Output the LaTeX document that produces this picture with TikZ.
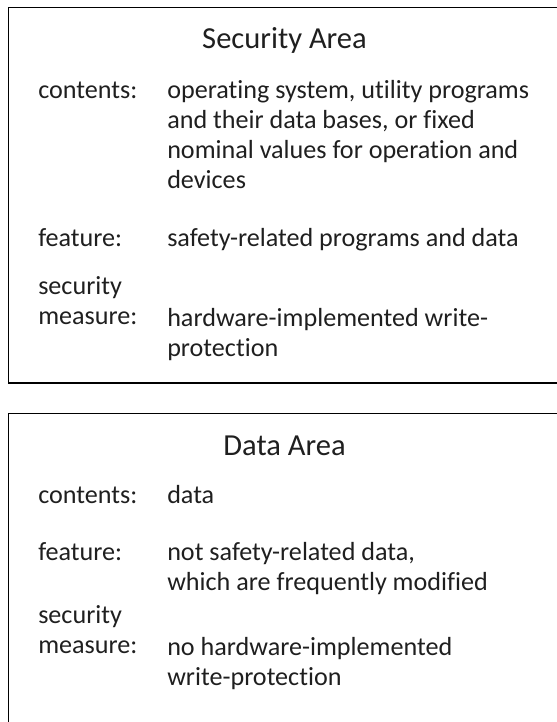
\documentclass[tikz,border=0pt]{standalone}
\usepackage{fontspec}
\setmainfont{Carlito}[Ligatures={NoCommon}]
\begin{document}
\begin{tikzpicture}[x=0.75pt,y=-0.75pt,
  areabox/.style={draw=black,line width=1.1pt},
  titletext/.style={anchor=base,inner sep=0pt,text=black!88,font=\fontsize{22.9pt}{27pt}\selectfont},
  bodytext/.style={anchor=base west,inner sep=0pt,text=black!88,font=\fontsize{19.6pt}{22.5pt}\selectfont}]
\useasboundingbox (0,0) rectangle (557,722);
\clip (0,0) rectangle (557,722);
% Security Area box
\draw[areabox] (8.5,7.5) rectangle (570,383);
\node[titletext] (t1) at (284.5,48) {Security Area};
\node[bodytext] (c1) at (38,98) {contents:};
\node[bodytext] (c1a) at (167,98) {operating system, utility programs};
\node[bodytext] (c1b) at (167,128) {and their data bases, or fixed};
\node[bodytext] (c1c) at (167,158) {nominal values for operation and};
\node[bodytext] (c1d) at (167,188) {devices};
\node[bodytext] (f1) at (38,246) {feature:};
\node[bodytext] (f1a) at (167,246) {safety-related programs and data};
\node[bodytext] (s1) at (38,294) {security};
\node[bodytext] (m1) at (38,324) {measure:};
\node[bodytext] (m1a) at (167,326) {hardware-implemented write-};
\node[bodytext] (m1b) at (167,356) {protection};
% Data Area box
\draw[areabox] (8.5,413.5) rectangle (570,735);
\node[titletext] (t2) at (284.5,455) {Data Area};
\node[bodytext] (c2) at (38,503) {contents:};
\node[bodytext] (c2a) at (167,503) {data};
\node[bodytext] (f2) at (38,560) {feature:};
\node[bodytext] (f2a) at (167,560) {not safety-related data,};
\node[bodytext] (f2b) at (167,590) {which are frequently modified};
\node[bodytext] (s2) at (38,623) {security};
\node[bodytext] (m2) at (38,653) {measure:};
\node[bodytext] (m2a) at (167,655) {no hardware-implemented};
\node[bodytext] (m2b) at (167,685) {write-protection};
\end{tikzpicture}
\end{document}
